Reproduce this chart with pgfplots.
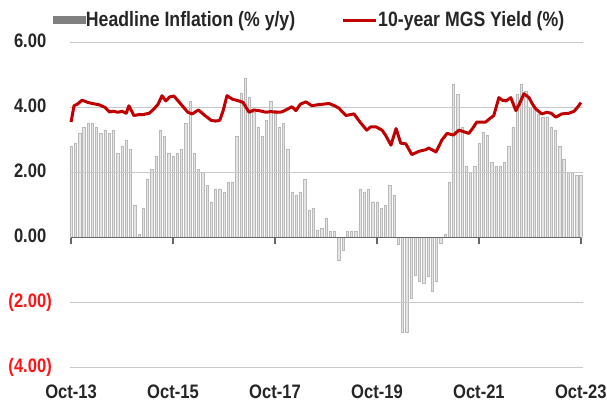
\documentclass[border=0pt]{standalone}
\usepackage{fontspec}
\setmainfont{Liberation Sans}[FakeStretch=0.85]
\usepackage{pgfplots}
\usepackage{pgfplotstable}
\pgfplotsset{compat=1.18}
\definecolor{yieldred}{RGB}{192,0,0}
\definecolor{negred}{RGB}{255,20,20}
\definecolor{gridgray}{RGB}{200,200,200}
\definecolor{legpatch}{RGB}{128,128,128}

\pgfplotstableread{
x y
0 2.8
1 2.9
2 3.2
3 3.4
4 3.5
5 3.5
6 3.4
7 3.2
8 3.3
9 3.2
10 3.3
11 2.6
12 2.8
13 3.0
14 2.7
15 1.0
16 0.1
17 0.9
18 1.8
19 2.1
20 2.5
21 3.3
22 3.1
23 2.6
24 2.5
25 2.6
26 2.7
27 3.5
28 4.2
29 2.6
30 2.1
31 2.0
32 1.6
33 1.1
34 1.5
35 1.5
36 1.4
37 1.7
38 1.7
39 3.1
40 4.45
41 4.9
42 4.3
43 3.85
44 3.4
45 3.1
46 3.6
47 4.2
48 3.9
49 3.4
50 3.5
51 2.7
52 1.4
53 1.3
54 1.4
55 1.8
56 0.85
57 0.9
58 0.23
59 0.3
60 0.6
61 0.2
62 0.2
63 -0.7
64 -0.4
65 0.2
66 0.2
67 0.2
68 1.5
69 1.4
70 1.5
71 1.1
72 1.1
73 0.9
74 1.0
75 1.6
76 1.3
77 -0.2
78 -2.9
79 -2.9
80 -1.85
81 -1.15
82 -1.35
83 -1.4
84 -1.2
85 -1.65
86 -1.35
87 -0.17
88 0.1
89 1.7
90 4.7
91 4.4
92 3.4
93 2.2
94 2.0
95 2.2
96 2.9
97 3.25
98 3.15
99 2.3
100 2.2
101 2.2
102 2.3
103 2.8
104 3.4
105 4.4
106 4.7
107 4.5
108 4.0
109 4.0
110 3.8
111 3.7
112 3.7
113 3.4
114 3.3
115 2.8
116 2.4
117 2.0
118 2.0
119 1.9
120 1.9
}\inflation

\pgfplotstableread{
x y
0 3.55
0.7 4.05
1.5 4.1
2.6 4.22
4 4.15
5 4.12
6.6 4.08
8 4.0
9 3.86
10 3.88
11 3.85
12 3.88
13 3.82
13.6 4.05
14.8 3.75
16 3.78
17 3.78
18.4 3.82
19.5 3.95
20.5 4.1
21.4 4.36
22.3 4.2
23.2 4.32
24.2 4.35
25.2 4.2
26.5 4.0
27.5 3.85
28.5 3.8
30 3.92
31.5 3.75
33 3.6
34 3.58
35 3.6
35.8 3.9
36.7 4.36
38 4.25
39.5 4.2
40.5 4.15
41.9 3.85
43 3.92
44.2 3.9
45.9 3.85
47 3.87
48.5 3.85
49.6 3.86
51 3.95
52 4.02
52.9 3.9
54 4.1
55.3 4.17
56.7 4.05
58 4.08
59.5 4.1
60.7 4.12
62 4.05
63 3.98
64.7 3.75
66.6 3.8
68 3.55
69.6 3.3
70.5 3.4
71.8 3.4
73.2 3.3
74 3.15
75.3 2.84
76.5 3.35
77.6 2.9
78.8 2.88
80.2 2.55
81.9 2.65
83.5 2.7
84.2 2.75
85.9 2.63
87.3 3.0
88.5 3.2
90 3.15
91.3 3.3
92.5 3.25
93.6 3.2
94.5 3.35
95.5 3.55
97.6 3.55
98.5 3.65
99.5 3.75
100.7 4.3
101.5 4.22
102.4 4.2
103.5 4.3
104.7 3.9
105.5 4.1
106.6 4.42
107.8 4.3
108.6 4.1
109.4 3.95
110.8 3.8
112 3.85
113 3.82
114.1 3.7
115.5 3.8
117.2 3.82
118.4 3.88
119.5 4.05
120 4.15
}\yield

\begin{document}
\begin{tikzpicture}[font=\fontsize{19.5}{23}\selectfont\bfseries]
\begin{axis}[
  at={(0pt,0pt)}, anchor=south west,
  scale only axis, width=513pt, height=325.4pt,
  xmin=-0.25, xmax=120.5, ymin=-4, ymax=6,
  set layers=axis on top,
  axis line style={draw=none},
  major tick length=0pt,
  ytick={-4,-2,0,2,4,6},
  yticklabels={{\textcolor{negred}{(4.00)}},{\textcolor{negred}{(2.00)}},{0.00\phantom{)}},{2.00\phantom{)}},{4.00\phantom{)}},{6.00\phantom{)}}},
  yticklabel style={anchor=east, inner sep=0pt, xshift=-18pt, text=black!85},
  xtick={0,24,48,72,96,120},
  xticklabels={Oct-13,Oct-15,Oct-17,Oct-19,Oct-21,Oct-23},
  xticklabel style={anchor=north, inner sep=0pt, yshift=-17pt, text=black!85},
  tick style={draw=none},
  ymajorgrids, grid style={gridgray, line width=1pt},
  legend style={draw=none, fill=none, at={(axis description cs:-0.0335,1.0685)}, anchor=west,
    inner sep=0pt, nodes={inner sep=0.5pt, text=black!85, font=\fontsize{20.8}{24}\selectfont\bfseries},
    /tikz/every even column/.append style={column sep=46pt}},
  legend columns=2,
  legend cell align=left,
]
\addplot[ybar, bar width=0.55, fill=gray!20, draw=gray!55, line width=0.45pt,
  legend image code/.code={\fill[legpatch] (0pt,-3.5pt) rectangle (32pt,3.5pt);}]
  table[x=x, y=y]{\inflation};
\addlegendentry{Headline Inflation (\% y/y)}
\addplot[yieldred, line width=3pt, line join=round, mark=none, on layer=axis foreground,
  legend image code/.code={\draw[yieldred, line width=3pt] (0pt,0pt) -- (33pt,0pt);}]
  table[x=x, y=y]{\yield};
\addlegendentry{10-year MGS Yield (\%)}
\begin{pgfonlayer}{axis foreground}
\draw[black!60, line width=1.3pt] (axis cs:0,0) -- (axis cs:120,0);
\pgfplotsinvokeforeach{0,24,48,72,96,120}{
  \draw[black!60, line width=1.3pt] (axis cs:#1,0) -- ++(0pt,-6pt);
}
\end{pgfonlayer}
\end{axis}
\pgfresetboundingbox
\path[use as bounding box] (-70pt,-39.3pt) rectangle (537pt,367.7pt);
\end{tikzpicture}
\end{document}
